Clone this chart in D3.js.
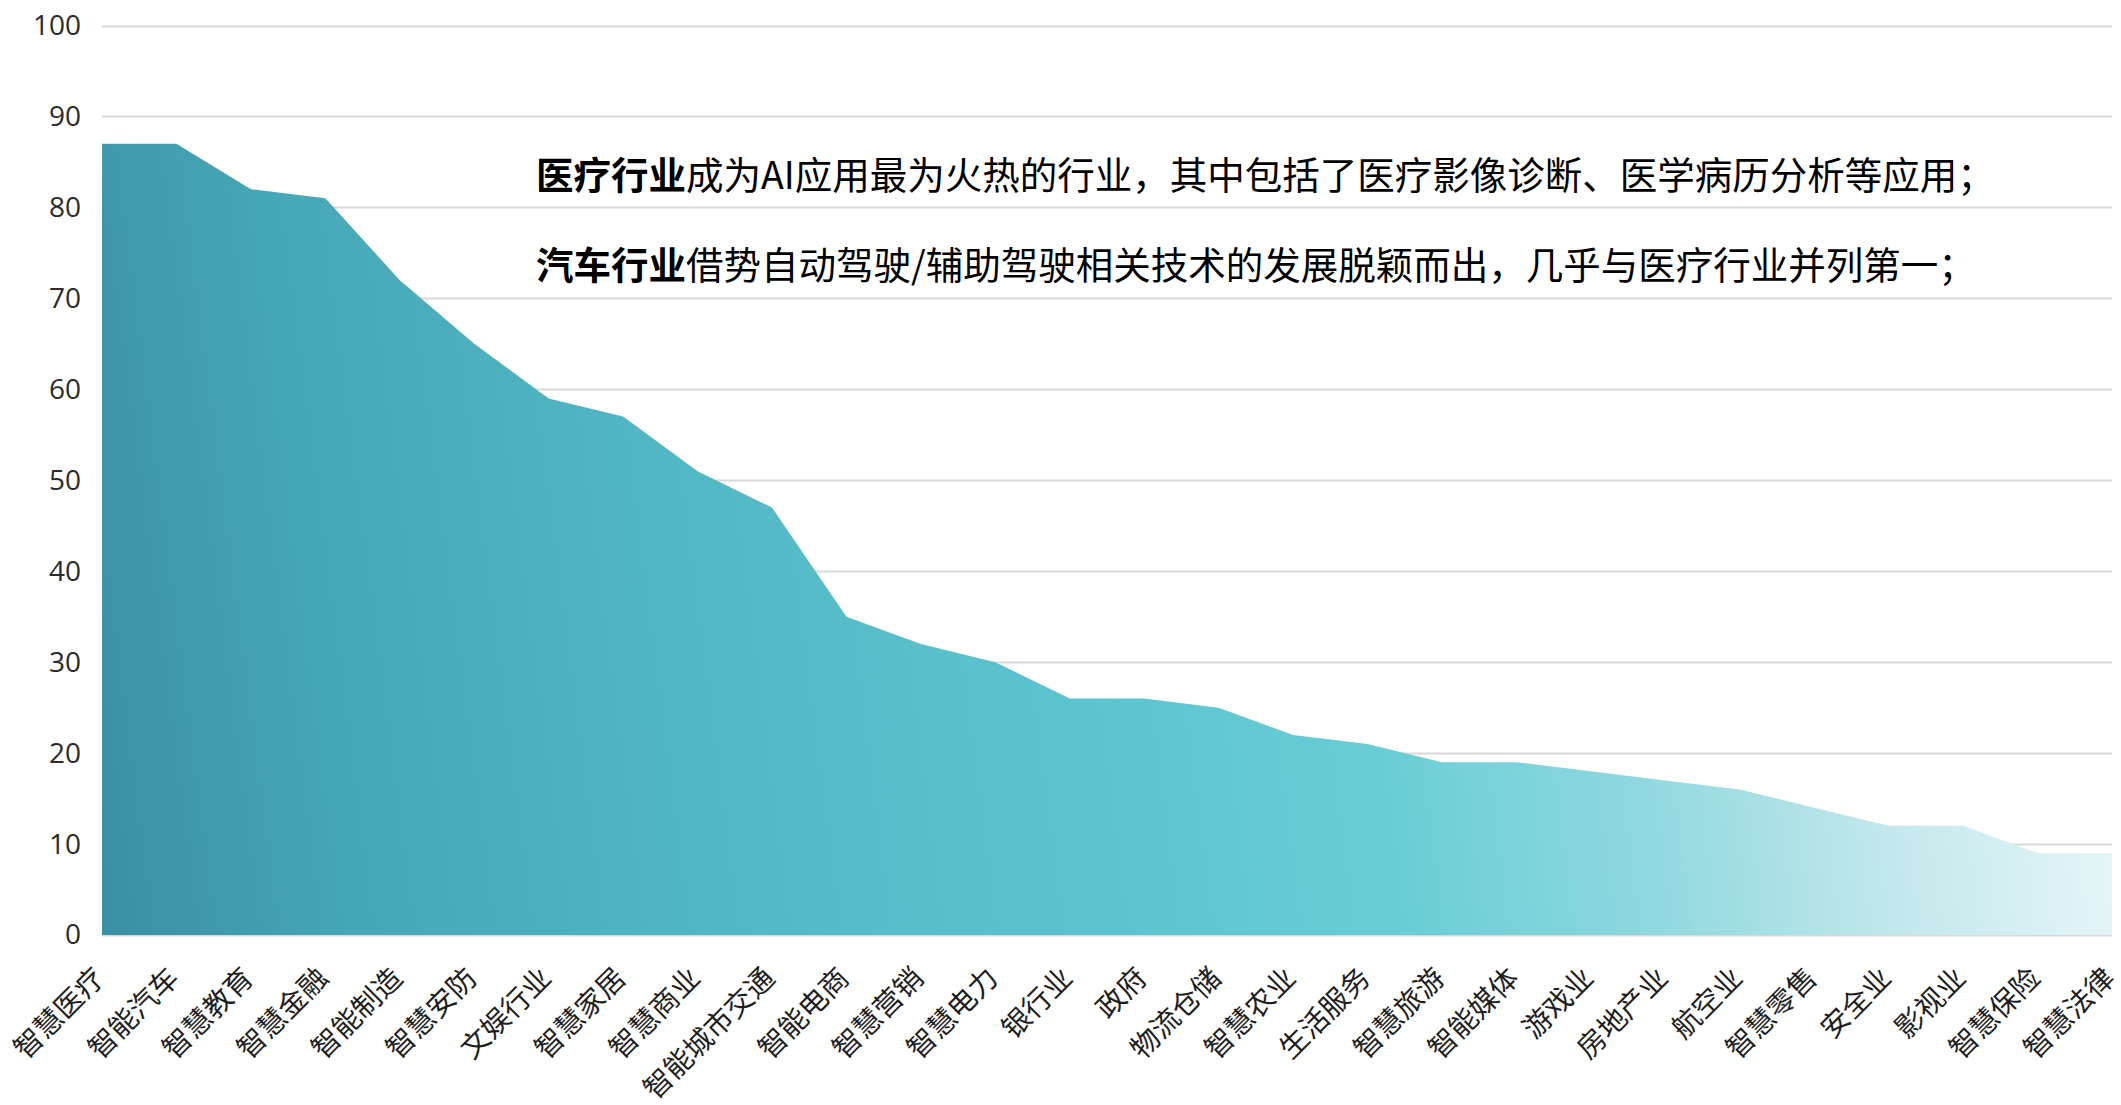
<!DOCTYPE html>
<html>
<head>
<meta charset="utf-8">
<script src="https://cdn.jsdelivr.net/npm/d3@7"></script>
<style>
  html, body { margin: 0; padding: 0; background: #ffffff; }
  svg { display: block; }
</style>
</head>
<body>
<svg id="chart" width="2121" height="1105"></svg>
<script>
const categories = ["智慧医疗","智能汽车","智慧教育","智慧金融","智能制造","智慧安防","文娱行业","智慧家居","智慧商业","智能城市交通","智能电商","智慧营销","智慧电力","银行业","政府","物流仓储","智慧农业","生活服务","智慧旅游","智能媒体","游戏业","房地产业","航空业","智慧零售","安全业","影视业","智慧保险","智慧法律"];
const values = [87,87,82,81,72,65,59,57,51,47,35,32,30,26,26,25,22,21,19,19,18,17,16,14,12,12,9,9];
const yTicks = [0,10,20,30,40,50,60,70,80,90,100];
const noteLines = [
  { bold: "医疗行业", rest: "成为AI应用最为火热的行业，其中包括了医疗影像诊断、医学病历分析等应用；" },
  { bold: "汽车行业", rest: "借势自动驾驶/辅助驾驶相关技术的发展脱颖而出，几乎与医疗行业并列第一；" }
];

const svg = d3.select("#chart");
const margin = { left: 102, right: 9, top: 25, bottom: 170 };
const W = 2121, H = 1105;
const x0 = margin.left, x1 = W - margin.right;
const y0 = H - margin.bottom, y1 = margin.top;

const x = d3.scalePoint().domain(categories).range([x0, x1]).padding(0);
const y = d3.scaleLinear().domain([0, 100]).range([y0, y1 + 0.5]);

const cjk = "'Noto Sans CJK SC', 'Noto Sans', sans-serif";

// gradient
const defs = svg.append("defs");
const grad = defs.append("linearGradient")
  .attr("id", "areaGrad")
  .attr("gradientUnits", "userSpaceOnUse")
  .attr("x1", x0).attr("y1", y0)
  .attr("x2", x1).attr("y2", y0 - 260);
[
  [0.00, "#3a8fa2"],
  [0.12, "#45a6b6"],
  [0.30, "#52b7c5"],
  [0.50, "#5cc4cf"],
  [0.64, "#6acdd5"],
  [0.76, "#8fd8df"],
  [0.88, "#c2e8ec"],
  [1.00, "#e9f6f8"]
].forEach(([o, c]) => grad.append("stop").attr("offset", o).attr("stop-color", c));

// gridlines
const grid = svg.append("g");
grid.selectAll("line").data(yTicks).join("line")
  .attr("x1", x0).attr("x2", x1)
  .attr("y1", d => Math.round(y(d)) + 0.5).attr("y2", d => Math.round(y(d)) + 0.5)
  .attr("stroke", "#d9d9d9").attr("stroke-width", 2);

// area
const area = d3.area()
  .x((d, i) => x(categories[i]))
  .y0(y(0))
  .y1(d => y(d));
svg.append("path")
  .datum(values)
  .attr("d", area)
  .attr("fill", "url(#areaGrad)");

// y axis
const yAxis = d3.axisLeft(y).tickValues(yTicks).tickSize(0).tickPadding(0);
const gy = svg.append("g").attr("transform", `translate(${x0 - 21},0)`).call(yAxis);
gy.select(".domain").remove();
gy.selectAll("text")
  .attr("font-family", "'Open Sans', 'Noto Sans', sans-serif")
  .attr("font-size", 28)
  .attr("fill", "#2b2b2b");

// x axis
const xAxis = d3.axisBottom(x).tickSize(0).tickPadding(0);
const gx = svg.append("g").attr("transform", `translate(-5,${y0 + 36})`).call(xAxis);
gx.select(".domain").remove();
gx.selectAll(".tick text")
  .attr("font-family", cjk)
  .attr("font-size", 28.5)
  .attr("fill", "#1e1e1e")
  .attr("text-anchor", "end")
  .attr("dy", null)
  .attr("y", 0)
  .attr("dominant-baseline", "central")
  .attr("transform", "rotate(-45)");

// annotation
const note = svg.append("g");
noteLines.forEach((ln, i) => {
  const t = note.append("text")
    .attr("x", 536)
    .attr("y", 172 + i * 90)
    .attr("dominant-baseline", "central")
    .attr("font-family", cjk)
    .attr("font-size", 37.5)
    .attr("fill", "#000000");
  t.append("tspan").attr("font-weight", "bold").text(ln.bold);
  t.append("tspan").attr("font-weight", "normal").text(ln.rest);
});
</script>
</body>
</html>
